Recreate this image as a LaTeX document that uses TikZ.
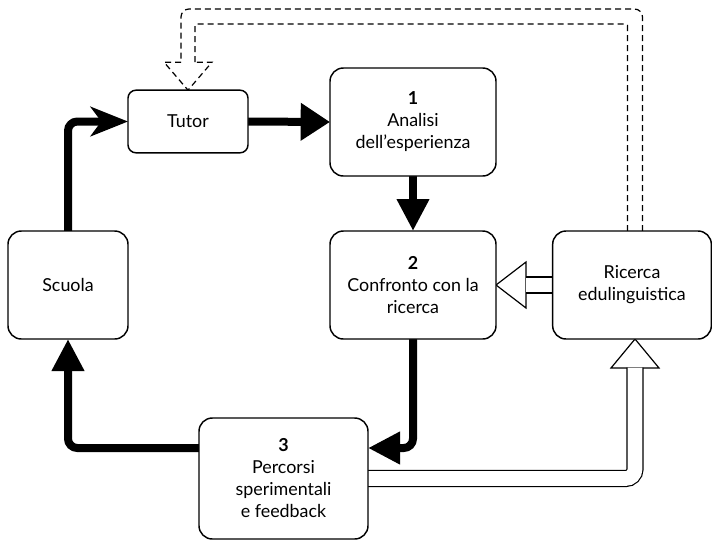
\documentclass[tikz,border=0pt]{standalone}
\usepackage{fontspec}
\setmainfont{Lato}
\usetikzlibrary{arrows.meta,calc,backgrounds}

\begin{document}
\begin{tikzpicture}[
    x=0.75pt, y=-0.75pt,
    font=\fontsize{13.4}{16.5}\selectfont,
    % boxes
    smallbox/.style={rectangle, draw, line width=1.1pt, rounded corners=6pt, fill=white, align=center,
                     minimum width=90pt, minimum height=47pt, inner sep=1pt, outer sep=0pt},
    bigbox/.style={smallbox, rounded corners=10pt, minimum width=124.5pt, minimum height=81pt},
    % connectors
    flow/.style={draw, line width=6pt, rounded corners=7pt, -{Triangle[length=24pt,width=23pt]}},
    hollow/.style={draw, line width=0.9pt, double=white, double distance=11pt, rounded corners=7pt},
    hollowhead/.style={draw, line width=0.9pt, fill=white, line join=miter},
    dashline/.style={draw, line width=0.9pt, dash pattern=on 4.5pt off 3pt},
]
\useasboundingbox (0,0) rectangle (712,540);

% -------------------------
% Boxes
% -------------------------
\node[smallbox] (tutor) at (188,121.5) {Tutor};
\node[bigbox] (ana)  at (413,122) {\textbf{1}\\Analisi\\dell’esperienza};
\node[bigbox] (conf) at (413,285) {\textbf{2}\\Confronto con la\\ricerca};
\node[bigbox, minimum width=119pt] (ric) at (632,285) {Ricerca\\edulinguistica};
\node[bigbox, minimum width=90pt]  (scu) at (68,285) {Scuola};
\node[bigbox, minimum width=126.75pt, minimum height=90.75pt] (perc) at (283.5,478.5)
     {\textbf{3}\\Percorsi\\sperimentali\\e feedback};

% helper points
\coordinate (percE) at ($(perc.east)+(0,-30.5)$);
\coordinate (percW) at ($(perc.west)+(0,-30.5)$);
\coordinate (ricS)  at ($(ric.south)+(3,0)$);
\coordinate (ricB)  at ($(ricS)+(0,28.5)$);
\coordinate (confB) at ($(conf.east)+(29.5,0)$);
% dashed feedback lines
\coordinate (ricNo) at ($(ric.north)+(10.5,0)$);
\coordinate (ricNi) at ($(ric.north)+(-4.5,0)$);
\coordinate (tutBo) at ($(tutor.north)+(-7,-28)$);
\coordinate (tutBi) at ($(tutor.north)+(7,-28)$);
\coordinate (topO)  at (400,9);
\coordinate (topI)  at (400,24);

\begin{scope}[on background layer]
% -------------------------
% Main cycle (thick)
% -------------------------
\draw[flow, -{Stealth[length=28pt,width=22pt,inset=8pt]}] (scu.north) |- (tutor.west);
\draw[flow, -{Triangle[length=22pt,width=27pt]}] (tutor.east) -- (ana.west);
\draw[flow] (ana.south) -- (conf.north);
\draw[flow] (conf.south) |- (percE);
\draw[flow] (percW) -| (scu.south);

% -------------------------
% Research links (hollow)
% -------------------------
\draw[hollowhead] (conf.east) -- ++(30,-23) -- ++(0,46) -- cycle;
\draw[hollow] (ric.west) -- (confB);

\draw[hollowhead] (ricS) -- ++(-24,29) -- ++(48,0) -- cycle;
\draw[hollow] (perc.east) -| (ricB);

% dashed feedback to the tutor
\draw[dashline, rounded corners=6pt] (ricNo) -- (ricNo |- topO) -| (tutBo);
\draw[dashline, rounded corners=1pt] (ricNi) -- (ricNi |- topI) -| (tutBi);
\draw[dashline, line join=miter] (tutBo) -- ++(-17,0) -- (tutor.north) -- ($(tutBi)+(17,0)$) -- (tutBi);
\end{scope}

\end{tikzpicture}
\end{document}
